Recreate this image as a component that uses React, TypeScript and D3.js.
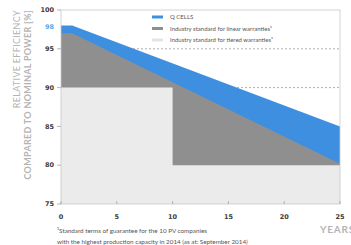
import React from "react";
import * as d3 from "d3";

// data
const years = [0, 1, 25];
const qcells = [98, 98, 85];
const linearStd = [97, 97, 80.2];
const tieredYears = [0, 10, 25];
const tieredStd = [90, 80, 80];
const xTicks = [0, 5, 10, 15, 20, 25];
const yTicks = [75, 80, 85, 90, 95, 100];
const legendItems = [
  { label: "Q CELLS", color: "#3f8fe0" },
  { label: "Industry standard for linear warranties¹", color: "#8f8f8f" },
  { label: "Industry standard for tiered warranties¹", color: "#e4e4e4" },
];
const footnote = [
  "¹Standard terms of guarantee for the 10 PV companies",
  "with the highest production capacity in 2014 (as at: September 2014)",
];

const W = 351;
const H = 245;
const left = 61;
const right = 340;
const top = 10;
const bottom = 204;

const App = () => {
  const x = d3.scaleLinear().domain([0, 25]).range([left, right]);
  const y = d3.scaleLinear().domain([75, 100]).range([bottom, top]);

  const area = d3
    .area<number>()
    .x((d, i) => x(years[i]))
    .y0(y(75))
    .y1(d => y(d));

  const tieredArea = d3
    .area<number>()
    .x((d, i) => x(tieredYears[i]))
    .y0(y(75))
    .y1(d => y(d))
    .curve(d3.curveStepAfter);

  const numFont = "'DejaVu Sans', sans-serif";
  const txtFont = "Lato, 'Open Sans', sans-serif";

  return (
    <svg
      width={W}
      height={H}
      style={{ position: "absolute", left: 0, top: 0, background: "#fff" }}
    >
      {/* dashed gridlines */}
      {yTicks.slice(1, -1).map(t => (
        <line
          key={t}
          x1={left}
          x2={right}
          y1={y(t)}
          y2={y(t)}
          stroke="#9a9a9a"
          strokeWidth={0.8}
          strokeDasharray="2,2"
        />
      ))}

      <path d={area(qcells) || ""} fill="#3f8fe0" />
      <path d={area(linearStd) || ""} fill="#8f8f8f" />
      <path d={tieredArea(tieredStd) || ""} fill="#ebebeb" />

      {/* frame */}
      <rect
        x={left}
        y={top}
        width={right - left}
        height={bottom - top}
        fill="none"
        stroke="#c8c8c8"
        strokeWidth={0.8}
      />

      {/* y axis */}
      {yTicks.map(t => (
        <g key={t}>
          <line x1={left - 4} x2={left} y1={y(t)} y2={y(t)} stroke="#999" strokeWidth={0.7} />
          <text
            x={54}
            y={y(t)}
            dy="0.35em"
            textAnchor="end"
            fontFamily={numFont}
            fontWeight="bold"
            fontSize={6.5}
            fill="#3a3a3a"
          >
            {t}
          </text>
        </g>
      ))}
      <text
        x={54}
        y={y(98)}
        dy="0.6em"
        textAnchor="end"
        fontFamily={numFont}
        fontWeight="bold"
        fontSize={6.5}
        fill="#5aa7ea"
      >
        98
      </text>

      {/* x axis */}
      {xTicks.map(t => (
        <g key={t}>
          <line x1={x(t)} x2={x(t)} y1={bottom} y2={bottom - 3} stroke="#999" strokeWidth={0.7} />
          <text
            x={x(t)}
            y={217}
            dy="0.35em"
            textAnchor="middle"
            fontFamily={numFont}
            fontWeight="bold"
            fontSize={6.5}
            fill="#3a3a3a"
          >
            {t}
          </text>
        </g>
      ))}
      <text
        x={320}
        y={229}
        dy="0.35em"
        fontFamily={txtFont}
        fontWeight="bold"
        fontSize={10}
        letterSpacing={0.8}
        fill="#b4b4b4"
      >
        YEARS
      </text>

      {/* y title */}
      <text
        transform={`translate(17,10) rotate(-90)`}
        textAnchor="end"
        dy="0.35em"
        fontFamily={txtFont}
        fontSize={9}
        letterSpacing={0.3}
        fill="#b4b4b4"
      >
        RELATIVE EFFICIENCY
      </text>
      <text
        transform={`translate(28,10) rotate(-90)`}
        textAnchor="end"
        dy="0.35em"
        fontFamily={txtFont}
        fontWeight="bold"
        fontSize={9}
        letterSpacing={0.3}
        fill="#b4b4b4"
      >
        COMPARED TO NOMINAL POWER [%]
      </text>

      {/* legend */}
      {legendItems.map((it, i) => (
        <g key={it.label} transform={`translate(152,${17 + i * 11.5})`}>
          <line x1={0} x2={11} y1={0} y2={0} stroke={it.color} strokeWidth={3} />
          <text x={18} y={0} dy="0.35em" fontFamily={txtFont} fontSize={6} fill="#555">
            {it.label}
          </text>
        </g>
      ))}

      {/* footnote */}
      {footnote.map((l, i) => (
        <text
          key={i}
          x={57}
          y={231 + i * 10.5}
          dy="0.35em"
          fontFamily={txtFont}
          fontSize={6.3}
          fill="#555"
        >
          {l}
        </text>
      ))}
    </svg>
  );
};

export default App;
